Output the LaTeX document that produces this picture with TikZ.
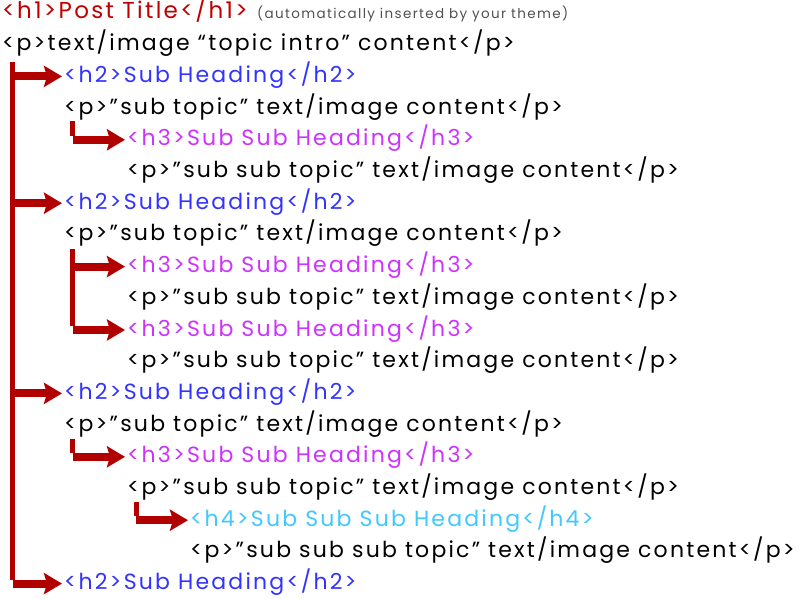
\documentclass[tikz,border=0pt]{standalone}
\usepackage{fontspec}
\setmainfont{Poppins}[LetterSpace=10]
\usetikzlibrary{arrows.meta}
\definecolor{hone}{RGB}{192,0,0}
\definecolor{htwo}{RGB}{51,51,255}
\definecolor{hthree}{RGB}{204,51,255}
\definecolor{hfour}{RGB}{64,200,255}
\definecolor{arr}{RGB}{176,0,0}
\definecolor{note}{RGB}{80,80,80}
\begin{document}
\begin{tikzpicture}[x=1pt,y=-1pt,
  line/.style={anchor=base west,inner xsep=0pt,inner ysep=0pt,text height=17pt,text depth=5pt,font=\fontsize{22}{26}\selectfont},
  notetext/.style={anchor=base west,inner sep=0pt,font=\fontsize{13.5}{16}\selectfont,text=note},
  vbar/.style={draw=arr,line width=5pt},
  harrow/.style={draw=arr,line width=8pt,shorten >=2pt,-{Stealth[length=18pt,width=21pt,inset=3pt]}}]
\useasboundingbox (0,0) rectangle (800,599);
\def\ls{31.7}
\node[line,text=hone,font=\fontsize{23}{27}\selectfont] (l1) at (2,19) {<h1>Post Title</h1>};
\node[notetext] (n1) at (257,19) {(automatically inserted by your theme)};
\node[line] (l2) at (2,19+1*\ls) {<p>text/image “topic intro” content</p>};
\node[line,text=htwo] (l3) at (64,19+2*\ls) {<h2>Sub Heading</h2>};
\node[line] (l4) at (64,19+3*\ls) {<p>"sub topic" text/image content</p>};
\node[line,text=hthree] (l5) at (127,19+4*\ls) {<h3>Sub Sub Heading</h3>};
\node[line] (l6) at (127,19+5*\ls) {<p>"sub sub topic" text/image content</p>};
\node[line,text=htwo] (l7) at (64,19+6*\ls) {<h2>Sub Heading</h2>};
\node[line] (l8) at (64,19+7*\ls) {<p>"sub topic" text/image content</p>};
\node[line,text=hthree] (l9) at (127,19+8*\ls) {<h3>Sub Sub Heading</h3>};
\node[line] (l10) at (127,19+9*\ls) {<p>"sub sub topic" text/image content</p>};
\node[line,text=hthree] (l11) at (127,19+10*\ls) {<h3>Sub Sub Heading</h3>};
\node[line] (l12) at (127,19+11*\ls) {<p>"sub sub topic" text/image content</p>};
\node[line,text=htwo] (l13) at (64,19+12*\ls) {<h2>Sub Heading</h2>};
\node[line] (l14) at (64,19+13*\ls) {<p>"sub topic" text/image content</p>};
\node[line,text=hthree] (l15) at (127,19+14*\ls) {<h3>Sub Sub Heading</h3>};
\node[line] (l16) at (127,19+15*\ls) {<p>"sub sub topic" text/image content</p>};
\node[line,text=hfour] (l17) at (190,19+16*\ls) {<h4>Sub Sub Sub Heading</h4>};
\node[line] (l18) at (190,19+17*\ls) {<p>"sub sub sub topic" text/image content</p>};
\node[line,text=htwo] (l19) at (64,19+18*\ls) {<h2>Sub Heading</h2>};
% main level
\coordinate (m0) at (12.5,62);
\draw[vbar] (m0) -- ([yshift=4pt]m0 |- l19.west);
\foreach \t in {l3,l7,l13,l19} \draw[harrow] (m0 |- \t.west) -- (\t.west);
% level 2
\coordinate (a0) at (72.5,121);
\draw[vbar] (a0) -- ([yshift=4pt]a0 |- l5.west);
\draw[harrow] (a0 |- l5.west) -- (l5.west);
\coordinate (b0) at (72.5,249);
\draw[vbar] (b0) -- ([yshift=4pt]b0 |- l11.west);
\foreach \t in {l9,l11} \draw[harrow] (b0 |- \t.west) -- (\t.west);
\coordinate (c0) at (72.5,439);
\draw[vbar] (c0) -- ([yshift=4pt]c0 |- l15.west);
\draw[harrow] (c0 |- l15.west) -- (l15.west);
% level 3
\coordinate (d0) at (136,502);
\draw[vbar] (d0) -- ([yshift=4pt]d0 |- l17.west);
\draw[harrow] (d0 |- l17.west) -- (l17.west);
\end{tikzpicture}
\end{document}
